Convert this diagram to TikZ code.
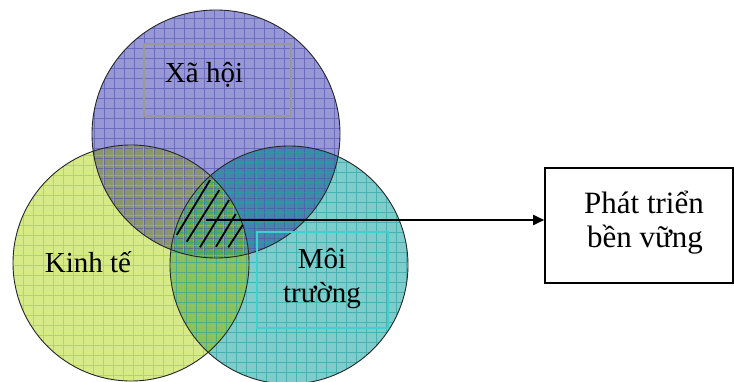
\documentclass[tikz,border=0pt]{standalone}
\usepackage{fontspec}
\setmainfont{Liberation Serif}
\usetikzlibrary{arrows.meta}
\definecolor{cP}{RGB}{152,152,214}
\definecolor{gP}{RGB}{80,80,176}
\definecolor{cL}{RGB}{214,234,136}
\definecolor{gL}{RGB}{160,206,30}
\definecolor{cT}{RGB}{126,204,204}
\definecolor{gT}{RGB}{40,160,160}
\definecolor{cTL}{RGB}{140,150,110}
\definecolor{cTR}{RGB}{70,132,170}
\definecolor{cLR}{RGB}{136,194,92}
\definecolor{cTLR}{RGB}{104,166,70}
\definecolor{boxcyan}{RGB}{64,208,208}
\tikzset{
  lbl/.style={anchor=base, inner sep=0pt, font=\fontsize{29}{30}\selectfont},
  biglbl/.style={anchor=base, inner sep=0pt, font=\fontsize{31}{33}\selectfont},
  gridline/.style={line width=0.6pt, opacity=0.6},
  outline/.style={draw=black!85, line width=0.9pt},
  hatch/.style={line width=1.8pt, black},
}
\begin{document}
\begin{tikzpicture}[x=1pt,y=-1pt]
\useasboundingbox (0,0) rectangle (734,381);
\clip (0,0) rectangle (734,381);
\coordinate (ctop) at (216,134);
\coordinate (cleft) at (131,263);
\coordinate (cright) at (289,265);
\def\rT{124pt}\def\rL{118pt}\def\rR{119pt}
% base fills
\fill[cP] (ctop) circle[radius=\rT];
\fill[cL] (cleft) circle[radius=\rL];
\fill[cT] (cright) circle[radius=\rR];
% pairwise and triple overlaps
\begin{scope}
  \clip (cleft) circle[radius=\rL];
  \fill[cLR] (cright) circle[radius=\rR];
\end{scope}
\begin{scope}
  \clip (ctop) circle[radius=\rT];
  \fill[cTL] (cleft) circle[radius=\rL];
  \fill[cTR] (cright) circle[radius=\rR];
  \clip (cleft) circle[radius=\rL];
  \fill[cTLR] (cright) circle[radius=\rR];
\end{scope}
% grid textures
\begin{scope}
  \clip (ctop) circle[radius=\rT];
  \draw[gridline, gP, step=10pt, shift={(4,8)}] (80,0) grid (350,270);
\end{scope}
\begin{scope}
  \clip (cleft) circle[radius=\rL];
  \draw[gridline, gL, step=10pt, shift={(3,5)}] (0,130) grid (260,390);
\end{scope}
\begin{scope}
  \clip (cright) circle[radius=\rR];
  \draw[gridline, gT, step=10pt, shift={(6,2)}] (160,130) grid (420,390);
\end{scope}
% outlines
\draw[outline] (ctop) circle[radius=\rT];
\draw[outline] (cleft) circle[radius=\rL];
\draw[outline] (cright) circle[radius=\rR];
% text frames
\draw[gray!80, line width=1.4pt] (144,44) rectangle (291,116);
\draw[boxcyan, line width=1.4pt] (257,232) rectangle (388,328);
% hatch in the common region
\draw[hatch] (210,180) -- (176.7,235);
\draw[hatch] (219.3,190) -- (186.7,241.7);
\draw[hatch] (229,200) -- (200,247.3);
\draw[hatch] (235.7,214) -- (216,246.7);
\draw[hatch] (242.7,225) -- (228.3,247.3);
% labels
\node[lbl] (xh) at (204,82) {Xã hội};
\node[lbl] (kt) at (88,272) {Kinh tế};
\node[lbl] (mt1) at (322,268) {Môi};
\node[lbl] (mt2) at (322,302) {trường};
% goal box
\node[draw, line width=1.6pt, minimum width=188pt, minimum height=115pt, inner sep=0pt] (goal) at (639,225.5) {};
\node[biglbl] (g1) at (644,213) {Phát triển};
\node[biglbl] (g2) at (645,247) {bền vững};
% arrow
\coordinate (hs) at (206,220);
\draw[line width=1.8pt, -{Triangle[length=11pt,width=10pt]}] (hs) -- (hs -| goal.west);
\end{tikzpicture}
\end{document}
